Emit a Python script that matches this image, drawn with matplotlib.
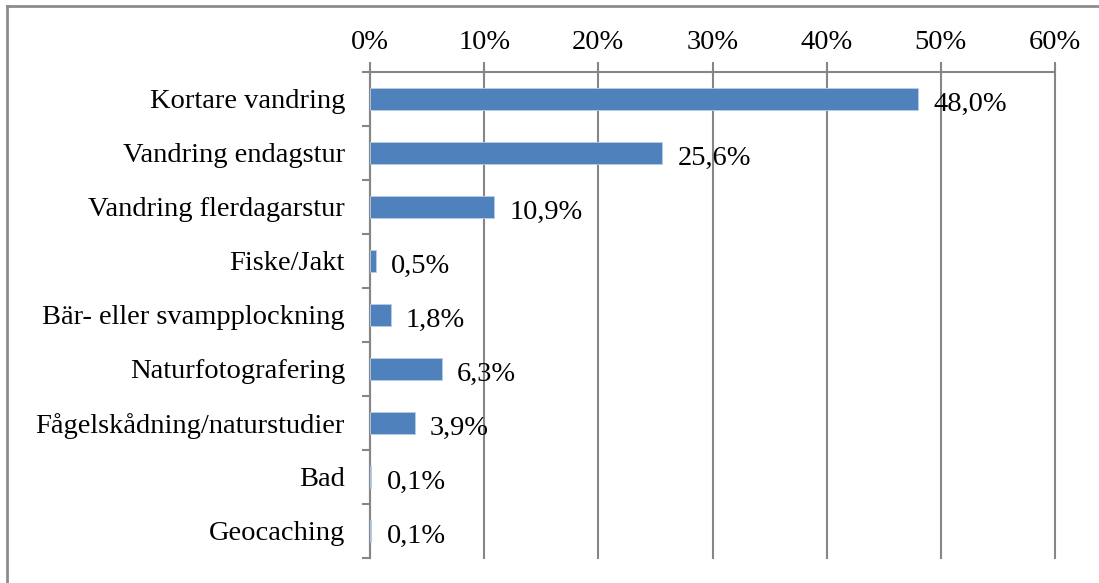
import matplotlib
matplotlib.use("Agg")
import matplotlib.pyplot as plt
from matplotlib.lines import Line2D
import numpy as np

categories = ["Kortare vandring", "Vandring endagstur", "Vandring flerdagarstur",
              "Fiske/Jakt", "Bär- eller svampplockning", "Naturfotografering",
              "Fågelskådning/naturstudier", "Bad", "Geocaching"]
values = [48.0, 25.6, 10.9, 0.5, 1.8, 6.3, 3.9, 0.1, 0.1]
value_labels = ["48,0%", "25,6%", "10,9%", "0,5%", "1,8%", "6,3%", "3,9%", "0,1%", "0,1%"]
xticks = [0, 10, 20, 30, 40, 50, 60]
xtick_labels = ["0%", "10%", "20%", "30%", "40%", "50%", "60%"]

plt.rcParams['font.family'] = ['Liberation Serif', 'DejaVu Serif']
FS = 20.5
W, H = 1099, 583
fig = plt.figure(figsize=(W / 100, H / 100), dpi=100)
ax = fig.add_axes([370 / W, 25 / H, (1055 - 370) / W, (558 - 72) / H])

grid_c = "#868686"
n = len(categories)
y = np.arange(n)
ax.barh(y, values, height=0.39, color="#4F81BD", edgecolor="#B9CDE5", linewidth=0.6, zorder=3)
ax.set_ylim(n - 0.5, -0.5)
ax.set_xlim(0, 60)

for yi, v, lab in zip(y, values, value_labels):
    ax.annotate(lab, (v, yi), xytext=(11, -1.5), textcoords="offset points",
                va="center_baseline", ha="left", fontsize=FS, color="black", zorder=4)

ax.xaxis.tick_top()
ax.set_xticks(xticks)
ax.set_xticklabels(xtick_labels, fontsize=FS)
ax.tick_params(axis="x", which="major", length=7, width=1.5, color=grid_c, pad=5, top=True, bottom=False)
for xv in xticks:
    ax.axvline(xv, color=grid_c, linewidth=1.5, zorder=1, clip_on=False)

ax.set_yticks(y)
ax.set_yticklabels(categories, fontsize=FS)
ax.tick_params(axis="y", which="major", length=0, pad=18)
ax.set_yticks(np.arange(n + 1) - 0.5, minor=True)
ax.tick_params(axis="y", which="minor", length=6, width=1.5, color=grid_c)

for s in ["right", "bottom"]:
    ax.spines[s].set_visible(False)
for s in ["top", "left"]:
    ax.spines[s].set_color(grid_c)
    ax.spines[s].set_linewidth(1.5)

fig.add_artist(Line2D([7 / W, 7 / W], [0, 1 - 6 / H], transform=fig.transFigure, color="#8C8C8C", lw=2))
fig.add_artist(Line2D([7 / W, 1], [1 - 6 / H, 1 - 6 / H], transform=fig.transFigure, color="#8C8C8C", lw=2))

fig.savefig("out.png", dpi=100)
